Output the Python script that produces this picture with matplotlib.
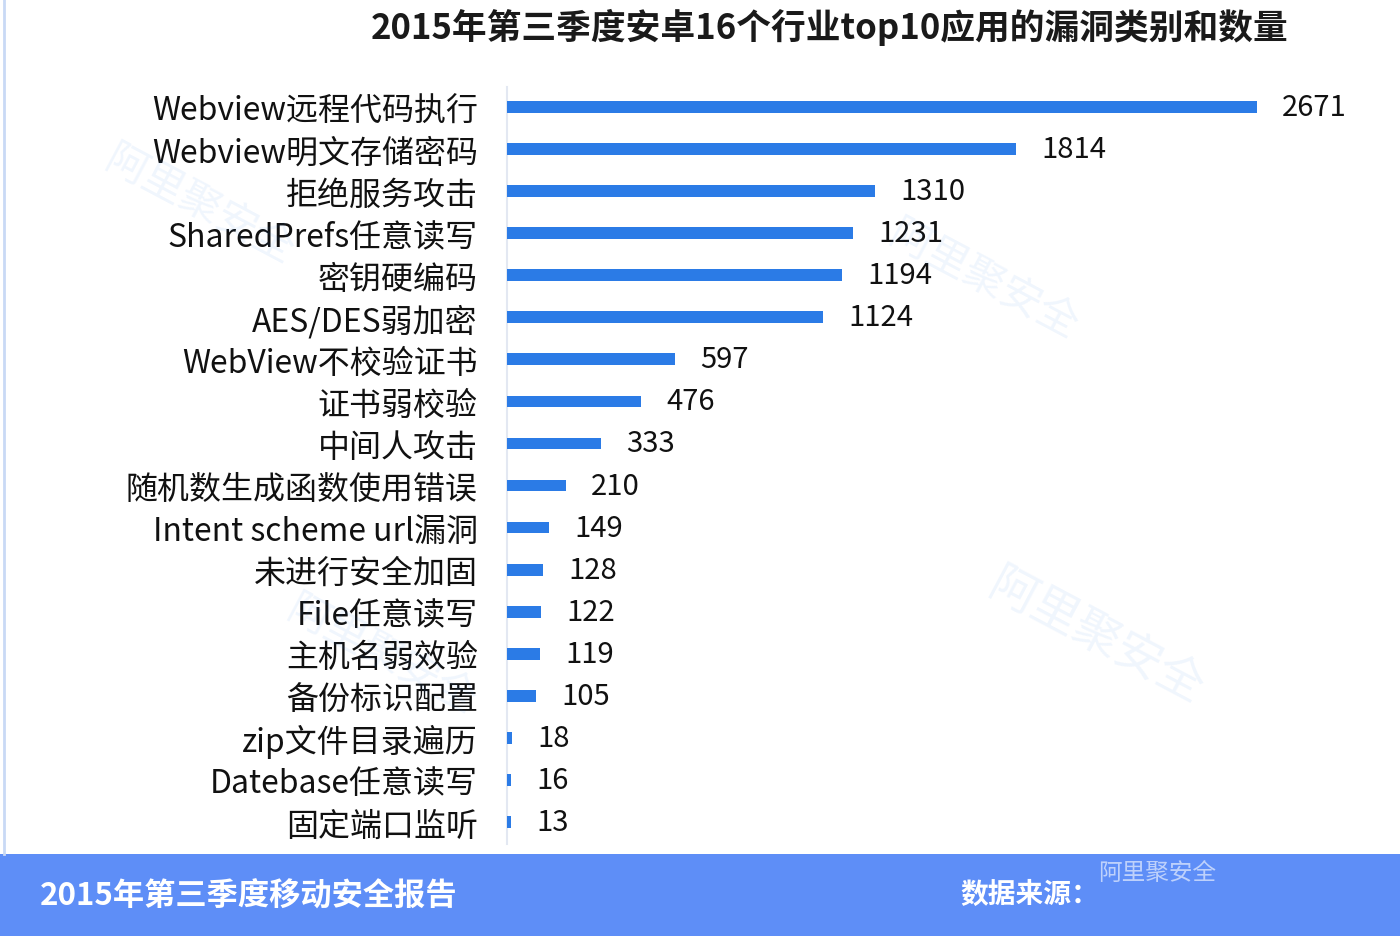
import matplotlib
matplotlib.use("Agg")
import matplotlib.pyplot as plt
from matplotlib.patches import Rectangle
from matplotlib.lines import Line2D

plt.rcParams['font.family'] = ['Noto Sans CJK SC', 'DejaVu Sans']

categories = [
    "Webview远程代码执行", "Webview明文存储密码", "拒绝服务攻击", "SharedPrefs任意读写",
    "密钥硬编码", "AES/DES弱加密", "WebView不校验证书", "证书弱校验", "中间人攻击",
    "随机数生成函数使用错误", "Intent scheme url漏洞", "未进行安全加固", "File任意读写",
    "主机名弱效验", "备份标识配置", "zip文件目录遍历", "Datebase任意读写", "固定端口监听",
]
values = [2671, 1814, 1310, 1231, 1194, 1124, 597, 476, 333, 210, 149, 128, 122, 119, 105, 18, 16, 13]

title = "2015年第三季度安卓16个行业top10应用的漏洞类别和数量"
footer_left = "2015年第三季度移动安全报告"
footer_right = "数据来源："

BAR = "#2B7BE6"
BAND = "#5E8EF7"

W, H = 1400, 937
fig = plt.figure(figsize=(W / 100, H / 100), dpi=100)
fig.patch.set_facecolor("white")

# axes placed in pixel terms
x0, x1 = 507, 1350
y_top, y_bot = 88, 845
ax = fig.add_axes([x0 / W, 1 - y_bot / H, (x1 - x0) / W, (y_bot - y_top) / H])
px_per_unit = (1257 - 507) / 2671
ax.set_xlim(0, (x1 - x0) / px_per_unit)
row = (823 - 108) / 17
ax.set_ylim(17 + (y_bot - 823) / row, -(108 - y_top) / row)

ypos = list(range(len(categories)))
ax.barh(ypos, values, height=0.28, color=BAR, zorder=3)
for y, v in zip(ypos, values):
    ax.text(v + 90, y, f"{v}", va="center", ha="left", fontsize=21,
            fontweight="medium", color="#111111", zorder=4)

ax.set_yticks(ypos)
ax.set_yticklabels(categories, fontsize=23, fontweight="medium", color="#111111")
ax.tick_params(axis="y", length=0, pad=21)
ax.set_xticks([])
for s in ["top", "right", "bottom"]:
    ax.spines[s].set_visible(False)
ax.spines["left"].set_color("#E3E8F2")
ax.spines["left"].set_linewidth(1.5)
ax.set_facecolor("none")

# watermarks
for (wx, wy, fs) in [(0.07, 0.78, 30), (0.20, 0.30, 30), (0.63, 0.70, 30), (0.70, 0.32, 34)]:
    fig.text(wx, wy, "阿里聚安全", fontsize=fs, color="#2B7BE6", alpha=0.07,
             rotation=-28, ha="left", va="center", zorder=0)

fig.text(830 / W, 1 - 27 / H, title, fontsize=25, fontweight="bold",
         ha="center", va="center", color="#1a1a1a")

# footer band and frame
fig.patches.append(Rectangle((0, 0), 1, 1 - 855 / H, transform=fig.transFigure,
                             facecolor=BAND, edgecolor="none", zorder=1))
fig.lines.append(Line2D([4 / W, 4 / W], [1 - 855 / H, 1], transform=fig.transFigure,
                        color="#C9D9F5", linewidth=2))
fig.text(40 / W, 1 - 897 / H, footer_left, fontsize=22.5, fontweight="bold",
         color="white", ha="left", va="center", zorder=2)
fig.text(960 / W, 1 - 895 / H, footer_right, fontsize=20, fontweight="bold",
         color="white", ha="left", va="center", zorder=2)
fig.text(1098 / W, 1 - 874 / H, "阿里聚安全", fontsize=17,
         color="white", alpha=0.6, ha="left", va="center", zorder=2)

fig.savefig("out.png", dpi=100)
